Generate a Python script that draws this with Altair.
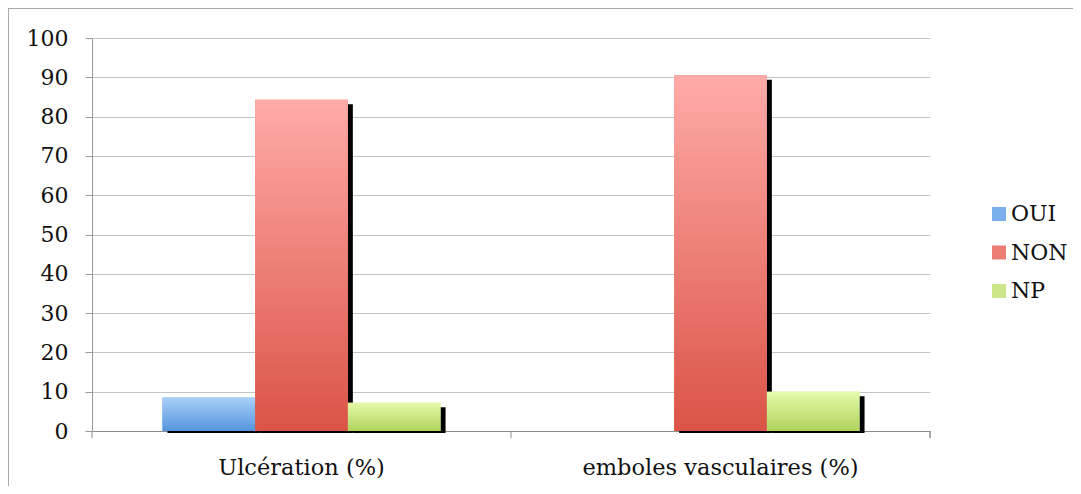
import altair as alt
import pandas as pd

categories = ["Ulcération (%)", "emboles vasculaires (%)"]
series = ["OUI", "NON", "NP"]
oui_values = [8.5, 0.0]
non_values = [84.3, 90.5]
np_values = [7.2, 10.0]

legend_colors = ["#7cb0ec", "#ee7d76", "#cbe78a"]
grad_top = ["#aacffb", "#ffaba8", "#e4fbab"]
grad_bottom = ["#5395db", "#db5346", "#b0d35c"]

rows = []
for i, c in enumerate(categories):
    for s, vals in zip(series, [oui_values, non_values, np_values]):
        rows.append({"categorie": c, "serie": s, "valeur": vals[i]})
df = pd.DataFrame(rows)

FONT = "DejaVu Serif"
W, H = 838, 393
BAND = W / len(categories)
SHIFT = 5

x_enc = alt.X("categorie:N", sort=categories,
              scale=alt.Scale(paddingInner=0, paddingOuter=0),
              axis=alt.Axis(title=None, labelAngle=0, labelFont=FONT, labelFontSize=22.5,
                            labelColor="#111111", ticks=False, tickSize=0, labelLimit=600,
                            labelPadding=43, labelBaseline="alphabetic",
                            domainColor="#8c8c8c", grid=False))
xo_enc = alt.XOffset("serie:N", sort=series, scale=alt.Scale(paddingOuter=0.76, paddingInner=0))
xo_shadow = alt.XOffset("serie:N", sort=series,
                        scale=alt.Scale(paddingOuter=0.76, paddingInner=0,
                                        range=[SHIFT, BAND + SHIFT]))
y_enc = alt.Y("valeur:Q", scale=alt.Scale(domain=[0, 100], nice=False),
              axis=alt.Axis(title=None, values=list(range(0, 101, 10)), labelFont=FONT,
                            labelFontSize=22, labelColor="#111111", tickSize=7,
                            tickColor="#9a9a9a", labelPadding=17, gridColor="#c4c4c4",
                            domainColor="#9a9a9a"))

base = alt.Chart(df)

shadow = base.transform_filter("datum.valeur > 0").mark_bar(
    color="black", yOffset=4.5, y2Offset=2
).encode(x=x_enc, xOffset=xo_shadow, y=y_enc, y2=alt.datum(0))

flat = base.mark_bar().encode(
    x=x_enc, xOffset=xo_enc, y=y_enc,
    color=alt.Color("serie:N", sort=series,
                    scale=alt.Scale(domain=series, range=legend_colors),
                    legend=alt.Legend(title=None, orient="none", legendX=896, legendY=165,
                                      symbolType="square", symbolSize=196,
                                      symbolStrokeWidth=0, labelFont=FONT,
                                      labelFontSize=22, labelColor="#111111",
                                      rowPadding=16.5, labelOffset=1, padding=0)),
)


def grad(i):
    return alt.LinearGradient(
        gradient="linear", x1=0, y1=0, x2=0, y2=1,
        stops=[alt.GradientStop(color=grad_top[i], offset=0),
               alt.GradientStop(color=grad_bottom[i], offset=1)])


grads = [
    base.transform_filter(alt.datum.serie == s).mark_bar(fill=grad(i)).encode(
        x=x_enc, xOffset=xo_enc, y=y_enc)
    for i, s in enumerate(series)
]
bars = alt.layer(flat, *grads)

tick_df = pd.DataFrame({"categorie": categories})
xticks = alt.Chart(tick_df).mark_rule(color="#8c8c8c").encode(
    x=alt.X("categorie:N", sort=categories, bandPosition=0),
    y=alt.value(H), y2=alt.value(H + 7))
end_tick = alt.Chart(tick_df).mark_rule(color="#8c8c8c").encode(
    x=alt.value(W), y=alt.value(H), y2=alt.value(H + 7))

frame_left = alt.Chart(tick_df).mark_rule(color="#a8a8a8").encode(
    x=alt.value(-83.5), y=alt.value(-30), y2=alt.value(H + 60))
frame_top = alt.Chart(tick_df).mark_rule(color="#a8a8a8").encode(
    x=alt.value(-84), x2=alt.value(W + 150), y=alt.value(-29.5))

chart = alt.layer(shadow, bars, xticks, end_tick, frame_left, frame_top).resolve_scale(
    xOffset="independent"
).properties(
    width=W, height=H,
    autosize=alt.AutoSizeParams(type="none"),
    padding={"left": 84, "top": 30, "right": 143, "bottom": 55},
).configure_view(strokeWidth=0)

chart.save("out.html", embed_options={"renderer": "svg", "actions": False})
